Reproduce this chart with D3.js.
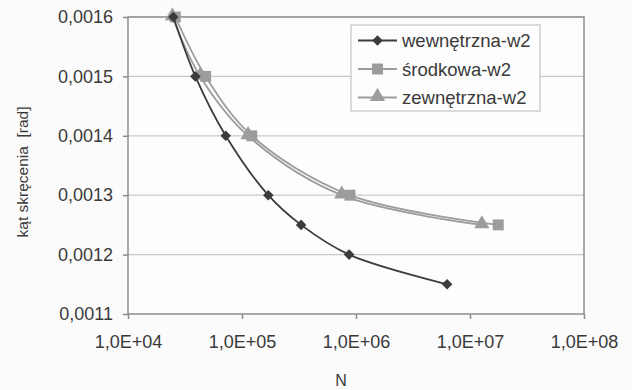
<!DOCTYPE html>
<html>
<head>
<meta charset="utf-8">
<script src="https://cdn.jsdelivr.net/npm/d3@7/dist/d3.min.js"></script>
<style>
  html, body { margin: 0; padding: 0; background: #fbfbfb; }
  svg { display: block; font-family: "Liberation Sans", Arial, sans-serif; }
</style>
</head>
<body>
<svg id="chart" width="632" height="390"></svg>
<script>
// Torsion angle vs. number of cycles N for three layers
const seriesNames = ["wewnętrzna-w2", "środkowa-w2", "zewnętrzna-w2"];
const wewN   = [2.5e4, 3.9e4, 7.2e4, 1.7e5, 3.3e5, 8.7e5, 6.3e6];
const wewVal = [0.0016, 0.0015, 0.0014, 0.0013, 0.00125, 0.0012, 0.00115];
const srodN   = [2.6e4, 4.8e4, 1.22e5, 8.85e5, 1.77e7];
const srodVal = [0.0016, 0.0015, 0.0014, 0.0013, 0.00125];
const zewN   = [2.45e4, 4.3e4, 1.13e5, 7.5e5, 1.27e7];
const zewVal = [0.0016, 0.0015, 0.0014, 0.0013, 0.00125];
const xTicks = [1e4, 1e5, 1e6, 1e7, 1e8];
const xTickLabels = ["1,0E+04", "1,0E+05", "1,0E+06", "1,0E+07", "1,0E+08"];
const yTicks = [0.0011, 0.0012, 0.0013, 0.0014, 0.0015, 0.0016];
const yTickLabels = ["0,0011", "0,0012", "0,0013", "0,0014", "0,0015", "0,0016"];

const svg = d3.select("#chart");
const m = { left: 128, top: 17, right: 584, bottom: 314 };

const x = d3.scaleLog().domain([1e4, 1e8]).range([m.left, m.right]);
const y = d3.scaleLinear().domain([0.0011, 0.0016]).range([m.bottom, m.top]);

// plot background
svg.append("rect")
  .attr("x", m.left).attr("y", m.top)
  .attr("width", m.right - m.left).attr("height", m.bottom - m.top)
  .attr("fill", "#fdfdfd");

// horizontal gridlines
svg.append("g").selectAll("line")
  .data(yTicks.slice(1))
  .join("line")
  .attr("x1", m.left).attr("x2", m.right)
  .attr("y1", d => y(d)).attr("y2", d => y(d))
  .attr("stroke", "#c9c9c9").attr("stroke-width", 1.2);

// axes
const xAxis = d3.axisBottom(x).tickValues(xTicks)
  .tickFormat((d, i) => xTickLabels[i]).tickSize(5).tickPadding(16);
const gx = svg.append("g").attr("transform", `translate(0,${m.bottom})`).call(xAxis);
const yAxis = d3.axisLeft(y).tickValues(yTicks)
  .tickFormat((d, i) => yTickLabels[i]).tickSize(5).tickPadding(10);
const gy = svg.append("g").attr("transform", `translate(${m.left},0)`).call(yAxis);
[gx, gy].forEach(g => {
  g.select(".domain").remove();
  g.selectAll(".tick line").attr("stroke", "#8a8a8a").attr("stroke-width", 1.5);
  g.selectAll(".tick text").attr("fill", "#3a3a3a")
    .style("font-size", "18px").style("font-family", "Liberation Sans, Arial, sans-serif");
});

// plot frame
svg.append("rect")
  .attr("x", m.left).attr("y", m.top)
  .attr("width", m.right - m.left).attr("height", m.bottom - m.top)
  .attr("fill", "none").attr("stroke", "#8e8e8e").attr("stroke-width", 1.5);

// series
const series = [
  { name: seriesNames[0], xs: wewN, ys: wewVal, color: "#3c3c3c", marker: "diamond" },
  { name: seriesNames[1], xs: srodN, ys: srodVal, color: "#9c9c9c", marker: "square" },
  { name: seriesNames[2], xs: zewN, ys: zewVal, color: "#9c9c9c", marker: "triangle" }
];

const line = d3.line()
  .x(d => x(d[0])).y(d => y(d[1]))
  .curve(d3.curveCatmullRom.alpha(0.5));

const symbolFor = {
  diamond: d3.symbol().type(d3.symbolSquare).size(56),
  square: d3.symbol().type(d3.symbolSquare).size(120),
  triangle: d3.symbol().type(d3.symbolTriangle).size(100)
};

function drawMarker(g, type, cx, cy, color) {
  const p = g.append("path")
    .attr("d", symbolFor[type]())
    .attr("fill", color);
  if (type === "diamond") p.attr("transform", `translate(${cx},${cy}) rotate(45)`);
  else if (type === "triangle") p.attr("transform", `translate(${cx},${cy - 1})`);
  else p.attr("transform", `translate(${cx},${cy})`);
}

// draw grey series first so the dark one sits on top
[series[2], series[1], series[0]].forEach(s => {
  const pts = s.xs.map((v, i) => [v, s.ys[i]]);
  const g = svg.append("g");
  g.append("path").datum(pts)
    .attr("d", line).attr("fill", "none")
    .attr("stroke", s.color).attr("stroke-width", 1.8);
  pts.forEach(p => drawMarker(g, s.marker, x(p[0]), y(p[1]), s.color));
});

// legend
const lg = svg.append("g");
lg.append("rect")
  .attr("x", 351).attr("y", 25).attr("width", 189).attr("height", 86)
  .attr("fill", "#fdfdfd").attr("stroke", "#c4c4c4").attr("stroke-width", 1.2);
series.forEach((s, i) => {
  const cy = 40.5 + i * 28.5;
  lg.append("line").attr("x1", 358).attr("x2", 397).attr("y1", cy).attr("y2", cy)
    .attr("stroke", s.color).attr("stroke-width", 1.8);
  drawMarker(lg, s.marker, 377.5, cy, s.color);
  lg.append("text").attr("x", 402).attr("y", cy + 6.5)
    .attr("fill", "#3a3a3a").style("font-size", "18.5px")
    .text(s.name);
});

// axis titles
svg.append("text")
  .attr("x", 341).attr("y", 386)
  .attr("text-anchor", "middle").attr("fill", "#3a3a3a")
  .style("font-size", "16px").text("N");
svg.append("text")
  .attr("transform", "translate(28,172) rotate(-90)")
  .attr("text-anchor", "middle").attr("fill", "#3a3a3a")
  .style("font-size", "15.5px").style("white-space", "pre")
  .text("kąt skręcenia  [rad]");
</script>
</body>
</html>
